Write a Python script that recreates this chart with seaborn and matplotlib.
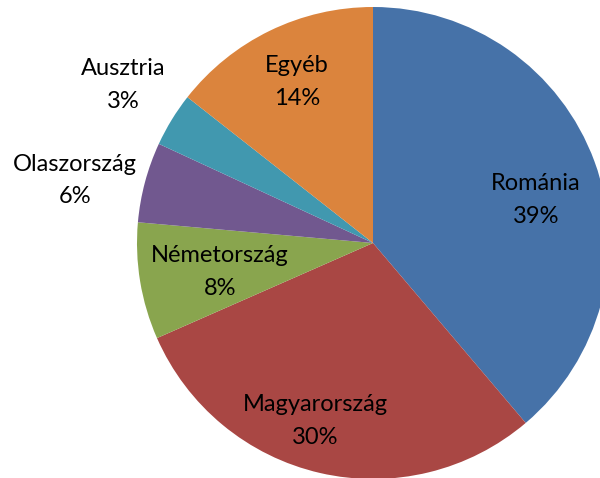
import matplotlib
matplotlib.use('Agg')
import matplotlib.pyplot as plt
import seaborn as sns

# ── Data ─────────────────────────────────────────────────────
countries = ['Románia', 'Magyarország', 'Németország',
             'Olaszország', 'Ausztria', 'Egyéb']
shares = [38.8, 29.6, 8.0, 5.5, 3.7, 14.4]
pct_labels = ['39%', '30%', '8%', '6%', '3%', '14%']

colors = ['#4672A8', '#A94744', '#89A54E',
          '#71588F', '#4198AF', '#DB843D']
# label centres in pie units (radius = 1)
label_pos = [(0.691, 0.182), (-0.244, -0.754), (-0.648, -0.121),
             (-1.263, 0.265), (-1.059, 0.669), (-0.322, 0.682)]

# ── Plot ─────────────────────────────────────────────────────
sns.set_style('white')
plt.rcParams['font.family'] = ['Lato', 'DejaVu Sans']

fig = plt.figure(figsize=(6, 4.78), dpi=100)
# pie centre at pixel (373, 243), radius 236 px
ax = fig.add_axes([(373 - 236) / 600, (235 - 236) / 478,
                   472 / 600, 472 / 478])

wedges, _ = ax.pie(shares, colors=colors, startangle=90,
                   counterclock=False, radius=1,
                   wedgeprops=dict(linewidth=0))
ax.set_xlim(-1, 1)
ax.set_ylim(-1, 1)
ax.set_aspect('equal')
ax.axis('off')

for name, pct, (x, y) in zip(countries, pct_labels, label_pos):
    ax.text(x, y, f'{name}\n{pct}', ha='center', va='center',
            fontsize=17, color='black', linespacing=1.7)

fig.savefig('out.png', dpi=100)
